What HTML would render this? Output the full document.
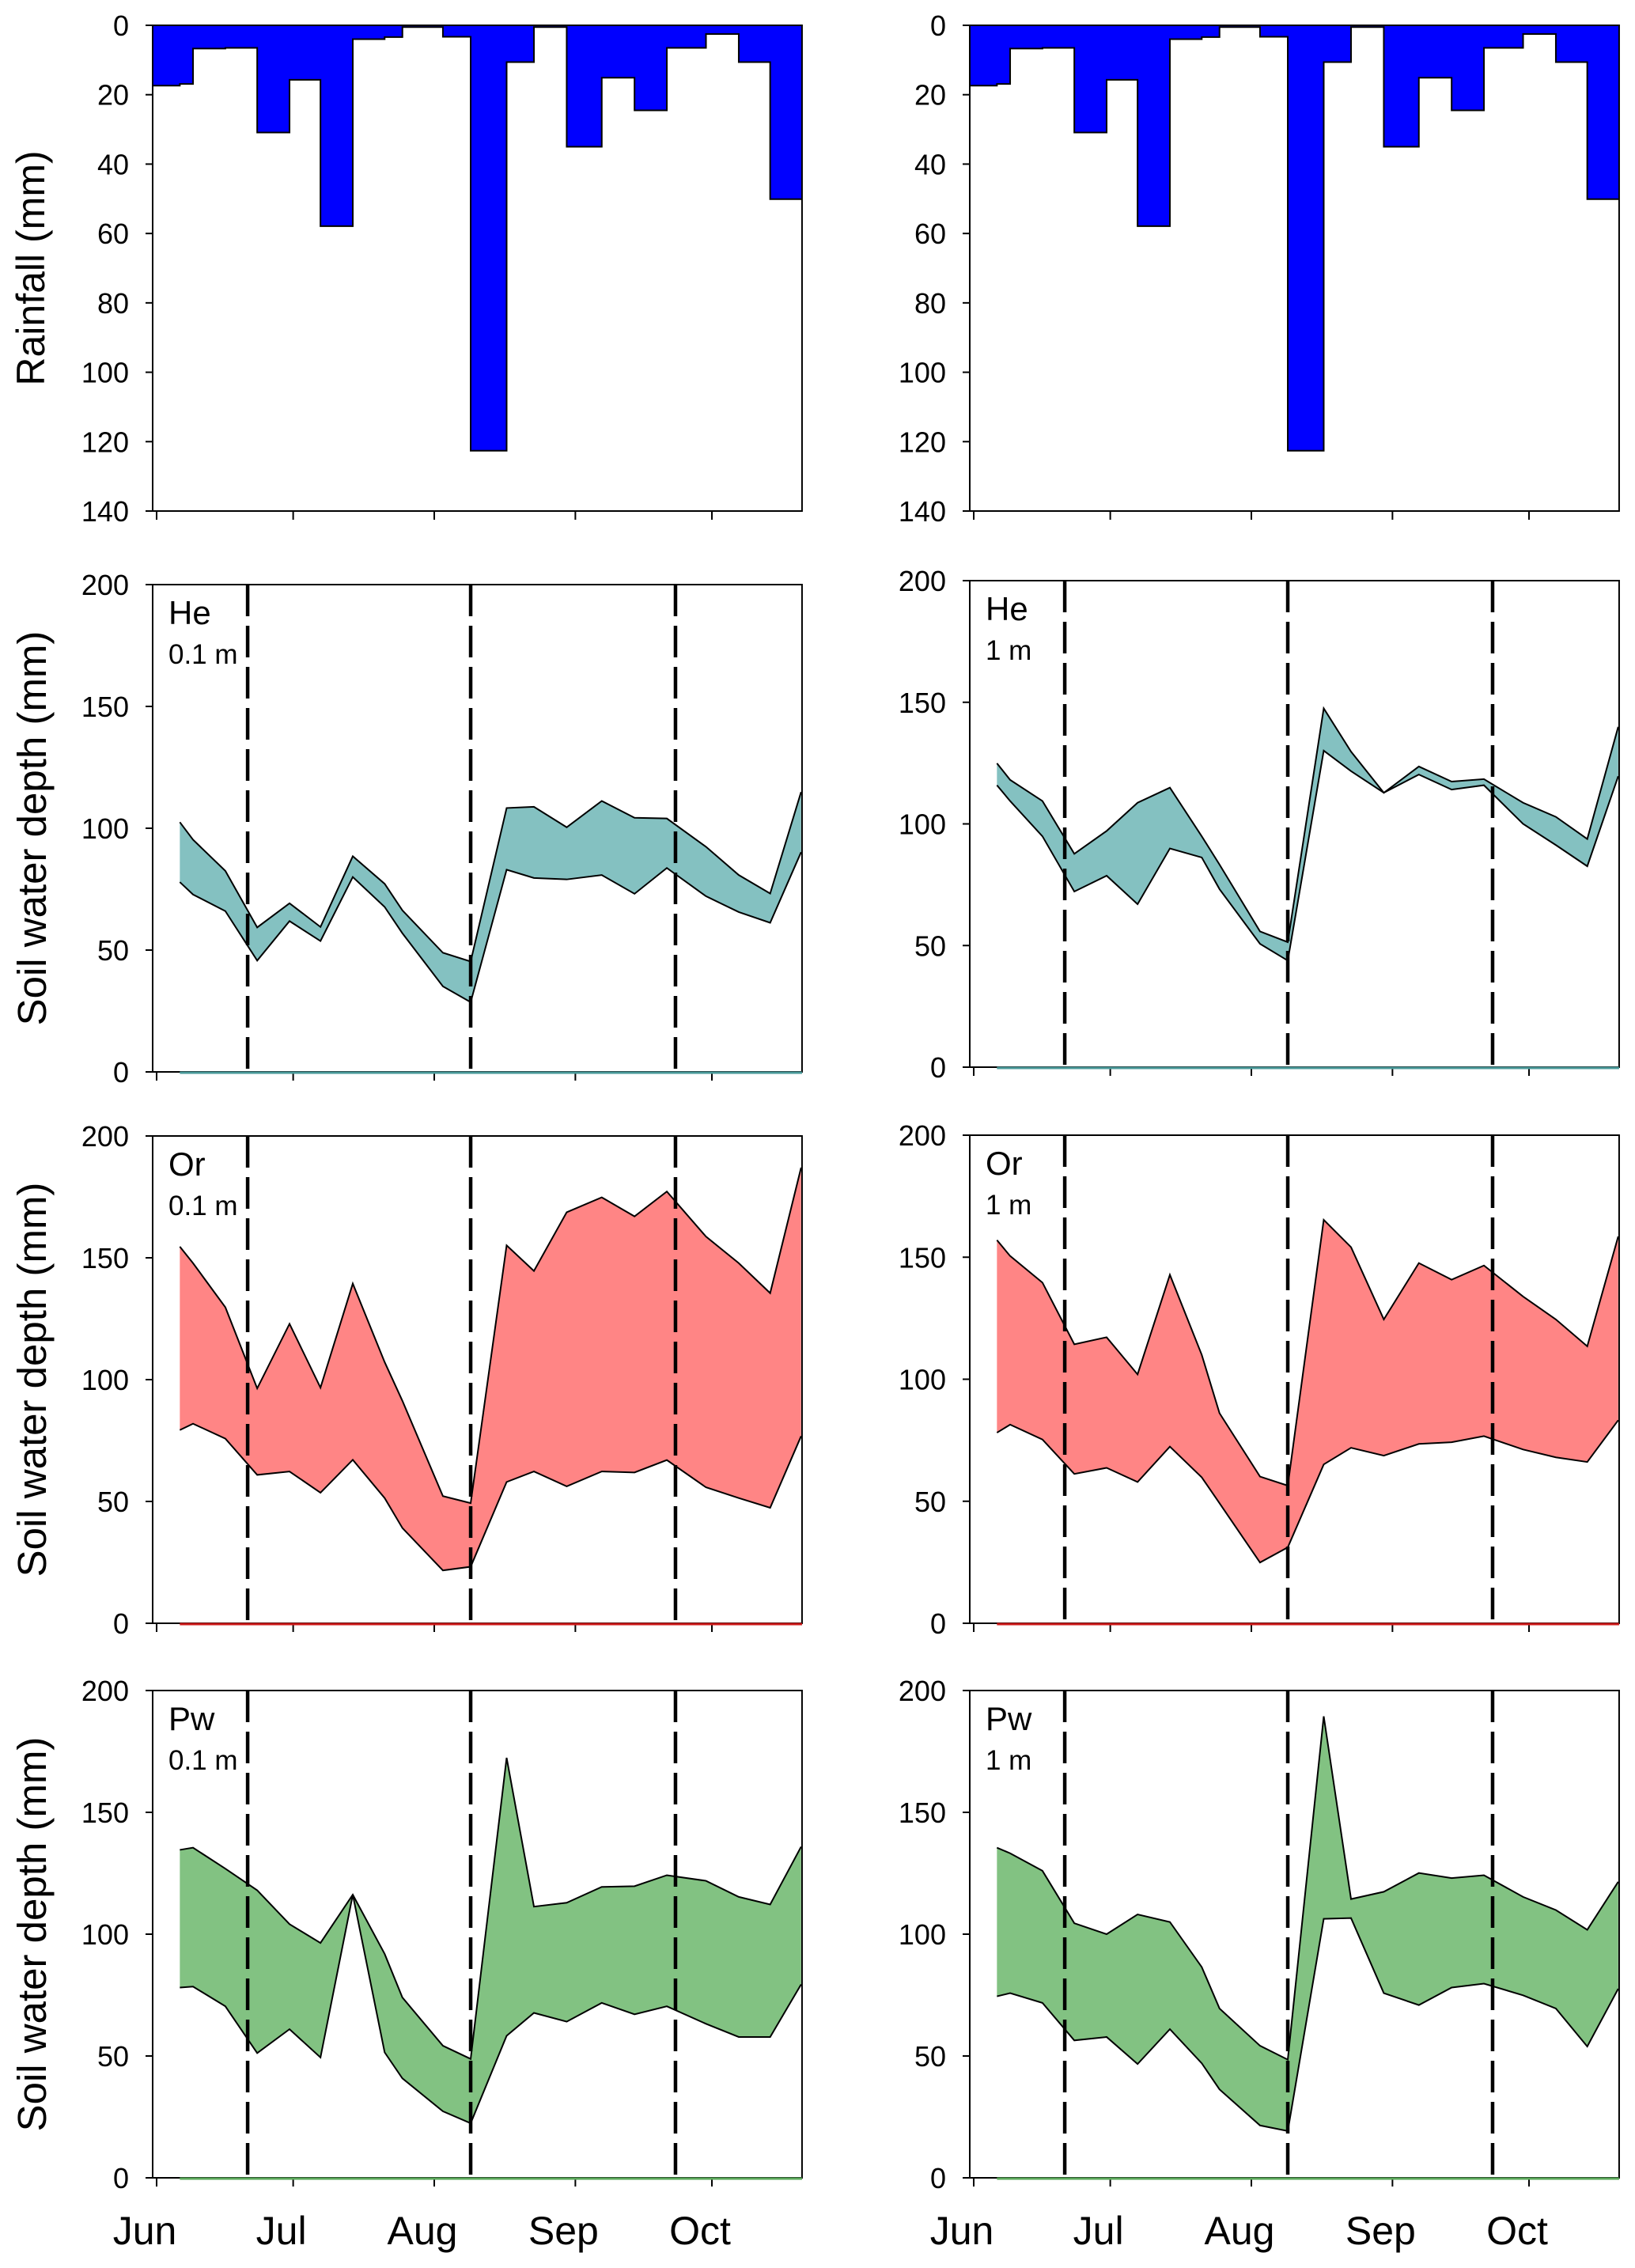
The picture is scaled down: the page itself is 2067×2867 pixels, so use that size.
<!DOCTYPE html>
<html><head><meta charset="utf-8">
<style>
html,body{margin:0;padding:0;background:#fff;}
svg{display:block;font-family:"Liberation Sans",Arial,sans-serif;}
</style></head>
<body>
<svg id="fig" width="2067" height="2867" viewBox="0 0 2067 2867" xmlns="http://www.w3.org/2000/svg"></svg>
<script>
// ---- data ----
const sampleDays = [5.1,8.0,15.1,22.1,29.2,36.0,43.1,50.1,54.0,62.9,69.0,76.9,82.9,90.1,97.8,105.0,112.1,120.7,127.9,134.8,141.6];
const rainStartDays = [-0.9,5.1,8.0,15.1,22.1,29.2,36.0,43.1,50.1,54.0,62.9,69.0,76.9,82.9,90.1,97.8,105.0,112.1,120.7,127.9,134.8];
const rainEndDays = [5.1,8.0,15.1,22.1,29.2,36.0,43.1,50.1,54.0,62.9,69.0,76.9,82.9,90.1,97.8,105.0,112.1,120.7,127.9,134.8,141.8];
const rainfall = [17.4,16.9,6.7,6.5,30.9,15.7,57.9,4.0,3.4,0.5,3.3,122.6,10.6,0.5,35,15.1,24.5,6.5,2.5,10.6,50.1];
const rainTicks = [0,20,40,60,80,100,120,140];
const waterTicks = [0,50,100,150,200];
const monthLabels = ["Jun","Jul","Aug","Sep","Oct"];
const monthDays = [0,30,61,92,122];
const eventDays = [20,69,114];

const heUpper01 = [102.5,95.3,82.5,59.3,69.2,59.5,88.5,77.2,66.3,48.9,45.3,108.3,108.8,100.4,111.2,104.3,104,92.4,80.8,73.2,114.9];
const heLower01 = [77.9,72.8,66,45.7,61.9,53.7,80,67.7,56.9,35.1,28.6,83,79.6,79,80.8,73.1,83.7,72.1,65.6,61.2,90.2];
const heUpper1 = [124.9,118.1,109.4,87.7,97.1,108.7,114.9,94.9,83.3,55.8,51.4,147.5,129.7,112.8,123.6,117.4,118.4,108.7,102.9,93.8,139.9];
const heLower1 = [115.9,109.4,94.9,72.2,78.7,67,89.9,86.2,73.2,50.7,43.8,130.1,121.7,112.8,120.3,114.1,115.9,100,91.3,82.6,119.6];
const orUpper01 = [154.6,147.8,129.7,96.4,122.9,96.7,139.4,107.2,91.3,52.2,49.3,155.1,144.6,168.7,174.8,167,177.2,158.7,147.8,135.5,187];
const orLower01 = [79.3,81.9,75.8,60.9,62.3,53.6,67.1,51.4,39.1,21.7,23.2,58,62.3,56.2,62.3,61.9,67,55.8,51.4,47.4,76.8];
const orUpper1 = [157,150.5,139.6,114.3,117.2,102,142.8,110,86.1,60.1,56.4,165.3,154.1,124.5,147.6,140.8,146.6,133.9,124.5,113.5,158.5];
const orLower1 = [78.1,81.4,75.3,61.2,63.7,57.9,72.4,59.8,49.2,24.9,31.1,65.1,71.9,68.7,73.5,74.2,76.7,71.2,68,66.1,83.2];
const pwUpper01 = [134.6,135.5,126.9,118,104.1,96.4,116.2,91.9,74,54.2,48.8,172.4,111.3,112.9,119.4,119.7,124.2,121.9,115.3,112.2,135.9];
const pwLower01 = [78.1,78.5,70.4,51.2,61,49.4,116.2,51.5,40.8,27.3,22.4,58.3,67.7,64.1,71.8,67.1,70.4,63.2,57.8,57.8,79.4];
const pwUpper1 = [135.5,133.2,126,104.5,100,108.1,105,86.5,69.5,54.2,48.5,189.4,114.4,117.4,125.1,123,124.2,115.3,109.9,101.8,121.5];
const pwLower1 = [74.5,75.8,71.8,56.4,57.8,46.7,61,47,36.3,21.5,19.2,106.3,106.6,75.8,70.9,78.1,79.7,74.9,69.5,53.9,77.6];

// ---- drawing ----
const svg = document.getElementById('fig');
const NS = 'http://www.w3.org/2000/svg';
function mk(tag, attrs, parent){
  const e = document.createElementNS(NS, tag);
  for (const k in attrs) e.setAttribute(k, attrs[k]);
  (parent||svg).appendChild(e);
  return e;
}
const D0 = -0.87, D1 = 141.8;
function xScale(d, off){ return off + 198 + d*(702/122); }

function frame(g, off, yTop, yBot, ticks, yFn){
  const xl = xScale(D0, off), xr = xScale(D1, off);
  const r = mk('rect', {x:xl, y:yTop, width:xr-xl, height:yBot-yTop, fill:'none', stroke:'#000', 'stroke-width':2}, g);
  
  
  ticks.forEach(t=>{
    const y = yFn(t);
    const tk = mk('line', {x1:xl-9, x2:xl, y1:y, y2:y, stroke:'#000','stroke-width':2}, g);
    
    
    const tx = mk('text', {x:xl-30, y:y+13, 'font-size':36, 'text-anchor':'end'}, g);
    
    
    tx.textContent = t;
  });
  monthDays.forEach(md=>{
    const x = xScale(md, off);
    const tk = mk('line', {x1:x, x2:x, y1:yBot, y2:yBot+11, stroke:'#000','stroke-width':2}, g);
    
    
  });
}

function rainPanel(off){
  const g = mk('g', {});
  
  
  const yTop = 32, yBot = 646;
  const yFn = v => yTop + v*(yBot-yTop)/140;
  let d = '';
  rainfall.forEach((v,i)=>{
    const x0 = xScale(rainStartDays[i], off), x1 = xScale(rainEndDays[i], off), y = yFn(v);
    d += (i===0?'M':'L') + x0 + ' ' + y + ' L' + x1 + ' ' + y + ' ';
  });
  const area = mk('path', {d: d + 'L' + xScale(D1,off) + ' ' + yTop + ' L' + xScale(D0,off) + ' ' + yTop + ' Z', fill:'#0000FF'}, g);
  
  
  const p = mk('path', {d:d, fill:'none', stroke:'#000', 'stroke-width':2}, g);
  
  
  frame(g, off, yTop, yBot, rainTicks, yFn);
  if (off === 0){
    const t = mk('text', {x:0, y:0, 'font-size':50, 'text-anchor':'middle', transform:'translate(56,339) rotate(-90)'}, g);
    
    
    t.textContent = 'Rainfall (mm)';
  }
}

function waterPanel(off, yTop, yBot, upper, lower, fill, zeroCol, species, depth, name){
  const g = mk('g', {});
  
  
  const yFn = v => yBot - v*(yBot-yTop)/200;
  let pts = sampleDays.map((d,i)=>xScale(d,off)+','+yFn(upper[i]));
  const lowPts = sampleDays.map((d,i)=>xScale(d,off)+','+yFn(lower[i])).reverse();
  const poly = mk('polygon', {points: pts.concat(lowPts).join(' '), fill:fill}, g);
  
  
  const ul = mk('polyline', {points: pts.join(' '), fill:'none', stroke:'#000','stroke-width':2}, g);
  
  
  const ll = mk('polyline', {points: sampleDays.map((d,i)=>xScale(d,off)+','+yFn(lower[i])).join(' '), fill:'none', stroke:'#000','stroke-width':2}, g);
  
  
  frame(g, off, yTop, yBot, waterTicks, yFn);
  const z = mk('line', {x1:xScale(sampleDays[0],off), x2:xScale(D1,off), y1:yBot+1, y2:yBot+1, stroke:zeroCol, 'stroke-width':3}, g);
  
  
  eventDays.forEach(ed=>{
    const x = xScale(ed, off);
    const l = mk('line', {x1:x, x2:x, y1:yTop, y2:yBot, stroke:'#000', 'stroke-width':4.5, 'stroke-dasharray':'40 12'}, g);
    
    
  });
  const s = mk('text', {x:xScale(D0,off)+20, y:yTop+50, 'font-size':42}, g);
  
  
  s.textContent = species;
  const dp = mk('text', {x:xScale(D0,off)+20, y:yTop+100, 'font-size':35}, g);
  
  
  dp.textContent = depth;
  if (off === 0){
    const t = mk('text', {x:0, y:0, 'font-size':51, 'text-anchor':'middle', transform:'translate(58,'+((yTop+yBot)/2)+') rotate(-90)'}, g);
    
    
    t.textContent = 'Soil water depth (mm)';
  }
}

rainPanel(0);
rainPanel(1033);
waterPanel(0, 739, 1355, heUpper01, heLower01, '#84C1C1', '#4a9a9a', 'He', '0.1 m', 'he-0.1m-panel');
waterPanel(1033, 734, 1349, heUpper1, heLower1, '#84C1C1', '#4a9a9a', 'He', '1 m', 'he-1m-panel');
waterPanel(0, 1436, 2052, orUpper01, orLower01, '#FF8585', '#cc1a1a', 'Or', '0.1 m', 'or-0.1m-panel');
waterPanel(1033, 1435, 2052, orUpper1, orLower1, '#FF8585', '#cc1a1a', 'Or', '1 m', 'or-1m-panel');
waterPanel(0, 2137, 2753, pwUpper01, pwLower01, '#82C282', '#5aa85a', 'Pw', '0.1 m', 'pw-0.1m-panel');
waterPanel(1033, 2137, 2753, pwUpper1, pwLower1, '#82C282', '#5aa85a', 'Pw', '1 m', 'pw-1m-panel');

[0,1033].forEach(off=>{
  monthLabels.forEach((m,i)=>{
    const t = mk('text', {x:xScale(monthDays[i],off)-15, y:2837, 'font-size':50, 'text-anchor':'middle'});
    
    
    t.textContent = m;
  });
});
</script>
</body></html>
